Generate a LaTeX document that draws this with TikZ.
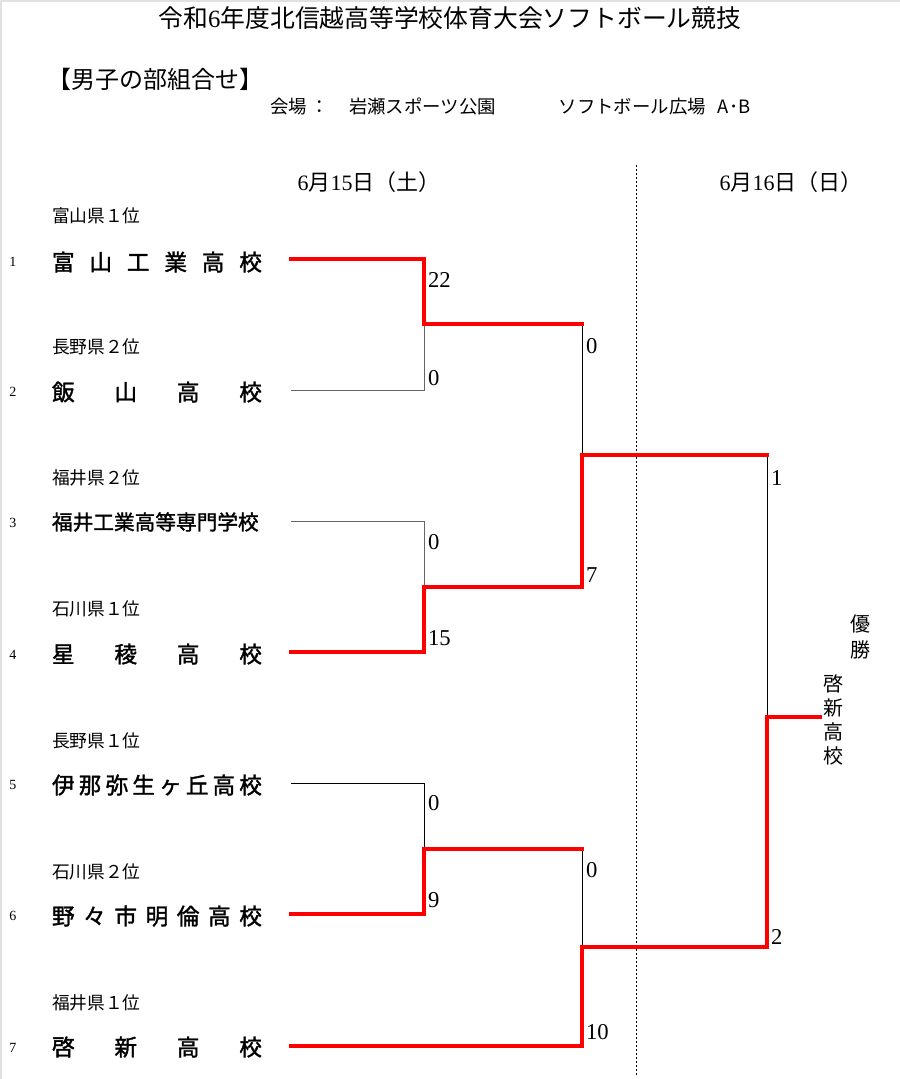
\documentclass[tikz,border=0pt]{standalone}
\usepackage{fontspec}
\setmainfont{Liberation Serif}
\newfontfamily\cjk{Noto Sans CJK JP}
\newfontfamily\cjkb[FakeBold=1.5]{Noto Sans CJK JP}
\definecolor{winred}{RGB}{255,0,0}
\definecolor{edgegray}{RGB}{225,225,225}
\newcommand\fs[1]{\fontsize{#1}{#1}\selectfont}
\newcommand\spread[1]{\makebox[157.5pt][s]{#1}}
\begin{document}
\begin{tikzpicture}[x=0.75pt,y=-0.75pt,
  txt/.style={inner sep=0pt,outer sep=0pt},
  pref/.style={txt,anchor=west,font=\cjk\fs{13.3}},
  school/.style={txt,anchor=west,font=\cjkb\fs{17}},
  seed/.style={txt,font=\fs{10.5}},
  score/.style={txt,anchor=west,font=\fs{17}},
  thin/.style={line width=0.75pt,black},
  thing/.style={line width=0.75pt,black!60},
  win/.style={line width=2.4pt,winred,line join=miter,line cap=rect},
  datel/.style={txt,font=\cjk\fs{16.5}}]
\useasboundingbox (0,0) rectangle (900,1079);
\fill[white] (0,0) rectangle (900,1079);
\draw[edgegray,line width=1.5pt] (1,1079) -- (1,0.5) -- (900,0.5);

% header
\node[txt,font=\cjk\fs{18.6}] (title) at (450,18) {令和{\rmfamily 6}年度北信越高等学校体育大会ソフトボール競技};
\node[txt,anchor=west,font=\cjk\fs{18}] (sub) at (47,79) {【男子の部組合せ】};
\node[txt,anchor=west,font=\cjk\fs{13.8}] (venue) at (270,106) {会場\hspace{3pt}：\hspace{15pt}岩瀬スポーツ公園\hspace{47pt}ソフトボール広場\hspace{9pt}A･B};
\node[datel] (d1) at (369,182) {{\rmfamily 6}月{\rmfamily 15}日（土）};
\node[datel] (d2) at (791,182) {{\rmfamily 6}月{\rmfamily 16}日（日）};
\coordinate (dtop) at (636,165);
\coordinate (dbot) at (636,1077);
\draw[line width=0.75pt,dash pattern=on 1.5pt off 1.5pt] (dtop) -- (dbot);

% seeds
\node[seed] (s1) at (13,262) {1};
\node[seed] (s2) at (13,392) {2};
\node[seed] (s3) at (13,523) {3};
\node[seed] (s4) at (13,655) {4};
\node[seed] (s5) at (13,785) {5};
\node[seed] (s6) at (13,916) {6};
\node[seed] (s7) at (13,1048) {7};

% prefecture labels
\node[pref] (p1) at (52,216) {富山県１位};
\node[pref] (p2) at (52,347) {長野県２位};
\node[pref] (p3) at (52,478) {福井県２位};
\node[pref] (p4) at (52,609) {石川県１位};
\node[pref] (p5) at (52,741) {長野県１位};
\node[pref] (p6) at (52,872) {石川県２位};
\node[pref] (p7) at (52,1003) {福井県１位};

% schools
\node[school] (n1) at (52,262) {\spread{富\hfill 山\hfill 工\hfill 業\hfill 高\hfill 校}};
\node[school] (n2) at (52,392) {\spread{飯\hfill 山\hfill 高\hfill 校}};
\node[school,font=\cjkb\fs{15.5}] (n3) at (52,522) {福井工業高等専門学校};
\node[school] (n4) at (52,654) {\spread{星\hfill 稜\hfill 高\hfill 校}};
\node[school] (n5) at (52,785) {\spread{伊\hfill 那\hfill 弥\hfill 生\hfill ヶ\hfill 丘\hfill 高\hfill 校}};
\node[school] (n6) at (52,916) {\spread{野\hfill 々\hfill 市\hfill 明\hfill 倫\hfill 高\hfill 校}};
\node[school] (n7) at (52,1047) {\spread{啓\hfill 新\hfill 高\hfill 校}};

% bracket coordinates
\coordinate (e1) at (291,259);
\coordinate (e2) at (291,390);
\coordinate (e3) at (291,521);
\coordinate (e4) at (291,652);
\coordinate (e5) at (291,783);
\coordinate (e6) at (291,914);
\coordinate (e7) at (291,1046);
\coordinate (ra) at (424,324);
\coordinate (rb) at (424,587);
\coordinate (rc) at (424,849);
\coordinate (qa) at (582,324);
\coordinate (qb) at (582,587);
\coordinate (qc) at (582,849);
\coordinate (qd) at (582,1046);
\coordinate (sa) at (582,455);
\coordinate (sb) at (582,947);
\coordinate (ta) at (767,455);
\coordinate (tb) at (767,947);
\coordinate (fin) at (767,717);
\coordinate (champ) at (820,717);

% losing lines
\draw[thing] (e2) -| (ra);
\draw[thing] (e3) -| (rb);
\draw[thin] (e5) -| (rc);
\draw[thin] (qa) -- (sa);
\draw[thin] (qc) -- (sb);
\draw[thin] (ta) -- (fin);

% winning lines
\draw[win] (e1) -| (ra) -- (qa);
\draw[win] (e4) -| (rb) -- (qb) -- (sa) -- (ta);
\draw[win] (e6) -| (rc) -- (qc);
\draw[win] (e7) -- (qd) -- (sb) -- (tb) -- (fin) -- (champ);

% scores
\node[score] (c1) at (428,280) {22};
\node[score] (c2) at (428,378) {0};
\node[score] (c3) at (428,542) {0};
\node[score] (c4) at (428,638) {15};
\node[score] (c5) at (428,803) {0};
\node[score] (c6) at (428,900) {9};
\node[score] (c12) at (586,346) {0};
\node[score] (c34) at (586,575) {7};
\node[score] (c56) at (586,870) {0};
\node[score] (c7) at (586,1032) {10};
\node[score] (f1) at (771,478) {1};
\node[score] (f2) at (771,937) {2};

% champion
\node[txt,font=\cjk\fs{15},align=center] (yusho) at (860,637) {優\\[4pt]勝};
\node[txt,font=\cjk\fs{15},align=center] (winner) at (833,720) {啓\\[3.2pt]新\\[3.2pt]高\\[3.2pt]校};
\end{tikzpicture}
\end{document}
